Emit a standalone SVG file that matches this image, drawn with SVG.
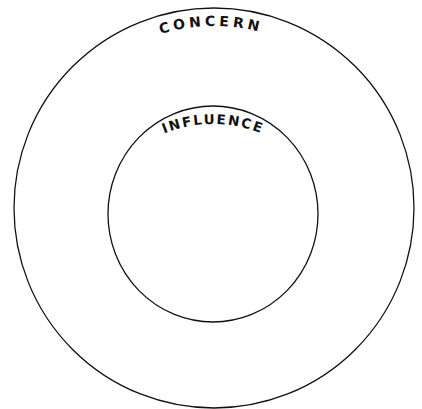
<svg xmlns="http://www.w3.org/2000/svg" width="422" height="409" viewBox="0 0 422 409">
<defs>
<style>
.ring{fill:none;stroke:#111;stroke-width:1.3}
.lbl{font-family:"DejaVu Sans","Liberation Sans",sans-serif;font-weight:bold;fill:#111;text-anchor:middle}
</style>
<path id="p-concern" d="M32,208 A182,182 0 0 1 396,208"/>
<path id="p-influence" d="M83,254 A130,130 0 0 1 343,254"/>
</defs>
<rect width="422" height="409" fill="#fff"/>
<g id="concern">
<circle class="ring" cx="214" cy="208" r="200"/>
<text class="lbl" font-size="14" letter-spacing="3.8"><textPath href="#p-concern" startOffset="49.5%">CONCERN</textPath></text>
</g>
<g id="influence">
<ellipse class="ring" cx="213" cy="214" rx="105" ry="108"/>
<text class="lbl" font-size="13.5" letter-spacing="1.8"><textPath href="#p-influence" startOffset="50%">INFLUENCE</textPath></text>
</g>
<g id="connectors"/>
</svg>
